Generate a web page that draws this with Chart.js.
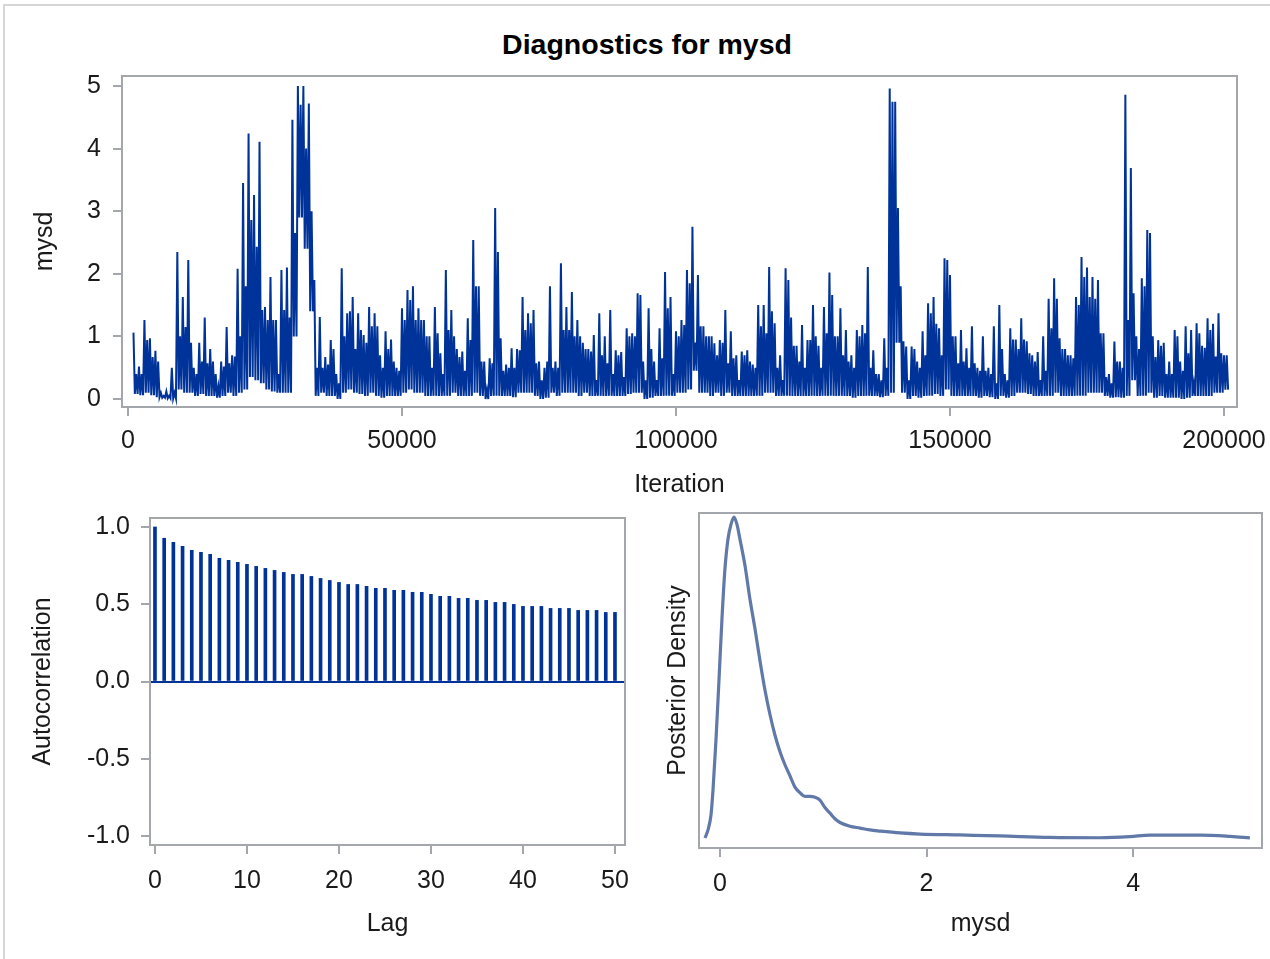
<!DOCTYPE html>
<html>
<head>
<meta charset="utf-8">
<title>Diagnostics for mysd</title>
<script src="https://cdn.jsdelivr.net/npm/chart.js@4.4.1/dist/chart.umd.min.js"></script>
<style>
  html, body { margin: 0; padding: 0; background: #fff; }
  body { width: 1270px; height: 959px; position: relative; overflow: hidden; font-family: 'Liberation Sans', Arial, sans-serif; }
  .frame { position: absolute; left: 3px; top: 4px; width: 1300px; height: 1000px; border-left: 2px solid #d6d6d6; border-top: 2px solid #d6d6d6; }
  .title { position: absolute; left: 0; width: 1294px; top: 27px; text-align: center; font-weight: bold; font-size: 28.5px; line-height: 34px; color: #000; }
  .panel { position: absolute; }
</style>
</head>
<body>
<div class="frame"></div>
<div class="title">Diagnostics for mysd</div>
<div class="panel" style="left:0; top:60px; width:1270px; height:440px;"><canvas id="traceChart"></canvas></div>
<div class="panel" style="left:0; top:500px; width:640px; height:459px;"><canvas id="acfChart"></canvas></div>
<div class="panel" style="left:640px; top:500px; width:630px; height:459px;"><canvas id="densityChart"></canvas></div>

<script>
// Trace plot: samples thinned to one slice per 1000 iterations.
// For each slice: highest value, lowest value and the level of the dense band
const traceStep = 1000;
const traceHigh = [
  1.06, 0.52, 1.26, 0.97, 0.77, 0.10, 0.12, 0.50, 2.35, 1.63,
  2.22, 0.50, 0.90, 1.30, 0.80, 0.40, 0.60, 1.15, 0.70, 2.08,
  3.45, 4.24, 3.26, 4.11, 1.47, 1.95, 1.26, 2.06, 2.10, 4.46,
  5.00, 5.00, 4.72, 1.90, 1.31, 0.67, 0.94, 0.40, 2.09, 1.37,
  1.63, 1.37, 1.02, 1.47, 1.37, 0.70, 1.08, 0.95, 0.50, 1.45,
  1.74, 1.80, 1.45, 1.26, 1.00, 1.47, 0.73, 2.06, 1.42, 0.80,
  0.76, 1.29, 2.54, 1.80, 0.60, 0.65, 3.05, 0.97, 0.55, 0.81,
  0.80, 1.63, 1.37, 1.42, 0.60, 0.50, 1.80, 0.60, 2.17, 1.47,
  1.71, 1.26, 0.90, 0.80, 1.02, 1.37, 1.00, 1.42, 0.78, 0.75,
  1.13, 1.05, 1.69, 0.60, 1.45, 0.60, 1.13, 2.03, 1.63, 1.08,
  1.26, 2.06, 2.75, 1.98, 1.16, 1.00, 0.89, 0.94, 1.42, 1.08,
  0.70, 0.76, 0.78, 0.55, 1.50, 1.50, 2.11, 1.21, 0.70, 2.09,
  1.30, 0.85, 1.18, 0.94, 1.50, 0.85, 1.47, 2.02, 1.00, 1.45,
  1.10, 0.70, 1.10, 1.18, 2.11, 0.78, 0.40, 0.97, 4.96, 4.75,
  1.80, 0.84, 0.84, 0.60, 1.08, 1.53, 1.63, 1.13, 2.25, 1.98,
  1.00, 1.10, 0.81, 1.16, 0.50, 1.00, 0.50, 1.16, 1.50, 0.40,
  1.13, 0.95, 1.29, 0.92, 0.70, 0.75, 1.00, 1.60, 1.93, 0.97,
  0.80, 0.70, 1.63, 2.27, 2.10, 1.95, 1.90, 1.05, 0.40, 0.92,
  0.60, 4.86, 3.69, 1.00, 1.93, 2.70, 1.00, 0.94, 0.90, 0.60,
  1.10, 0.60, 1.16, 1.10, 1.21, 0.85, 1.29, 1.20, 1.37, 0.70
];
const traceLow = [
  0.08, 0.06, 0.10, 0.06, 0.03, 0.02, 0.01, 0.01, 0.15, 0.10,
  0.10, 0.05, 0.08, 0.05, 0.05, 0.02, 0.05, 0.10, 0.05, 0.10,
  0.15, 0.35, 0.30, 0.25, 0.15, 0.12, 0.10, 0.10, 0.10, 1.00,
  2.90, 2.40, 1.40, 0.05, 0.10, 0.05, 0.05, 0.00, 0.10, 0.15,
  0.10, 0.08, 0.05, 0.10, 0.05, 0.02, 0.05, 0.05, 0.05, 0.10,
  0.15, 0.10, 0.10, 0.05, 0.05, 0.05, 0.05, 0.05, 0.10, 0.05,
  0.05, 0.05, 0.10, 0.05, 0.00, 0.05, 0.05, 0.05, 0.05, 0.03,
  0.10, 0.10, 0.10, 0.05, 0.00, 0.02, 0.10, 0.05, 0.10, 0.10,
  0.10, 0.05, 0.10, 0.05, 0.05, 0.05, 0.05, 0.05, 0.05, 0.05,
  0.08, 0.10, 0.10, 0.00, 0.02, 0.05, 0.05, 0.05, 0.05, 0.10,
  0.10, 0.15, 0.45, 0.10, 0.10, 0.05, 0.10, 0.05, 0.10, 0.05,
  0.05, 0.05, 0.05, 0.05, 0.05, 0.10, 0.10, 0.05, 0.05, 0.05,
  0.05, 0.05, 0.05, 0.05, 0.05, 0.05, 0.05, 0.05, 0.05, 0.05,
  0.05, 0.02, 0.05, 0.05, 0.05, 0.05, 0.03, 0.05, 0.10, 0.90,
  0.10, 0.00, 0.05, 0.02, 0.05, 0.05, 0.08, 0.05, 0.15, 0.05,
  0.05, 0.05, 0.05, 0.05, 0.02, 0.05, 0.03, 0.00, 0.05, 0.02,
  0.05, 0.10, 0.10, 0.08, 0.05, 0.05, 0.05, 0.05, 0.10, 0.05,
  0.05, 0.05, 0.05, 0.05, 0.10, 0.10, 0.10, 0.05, 0.02, 0.03,
  0.02, 0.05, 0.30, 0.05, 0.05, 0.10, 0.02, 0.05, 0.02, 0.02,
  0.02, 0.00, 0.02, 0.05, 0.05, 0.05, 0.05, 0.10, 0.10, 0.15
];
const traceMid = [
  0.40, 0.40, 0.94, 0.67, 0.60, 0.05, 0.05, 0.10, 1.00, 1.15,
  0.90, 0.40, 0.60, 0.57, 0.60, 0.20, 0.52, 0.57, 0.68, 1.00,
  1.80, 2.86, 2.43, 1.42, 1.26, 1.26, 0.40, 1.42, 1.30, 2.65,
  4.70, 4.00, 3.00, 0.50, 0.50, 0.55, 0.80, 0.25, 1.00, 1.40,
  0.80, 1.10, 0.90, 1.16, 1.16, 0.50, 0.80, 0.60, 0.45, 1.26,
  1.58, 1.26, 1.26, 1.00, 0.50, 1.05, 0.40, 1.10, 1.00, 0.67,
  0.45, 0.94, 1.80, 0.60, 0.15, 0.57, 2.35, 0.45, 0.50, 0.50,
  0.78, 1.10, 1.21, 0.57, 0.30, 0.60, 0.50, 0.50, 1.10, 1.10,
  1.00, 1.00, 0.80, 0.76, 0.30, 0.70, 0.57, 0.40, 0.70, 0.35,
  1.00, 1.00, 1.66, 0.30, 0.80, 0.30, 0.65, 1.45, 0.40, 1.00,
  1.18, 1.85, 0.90, 1.16, 1.00, 1.00, 0.70, 0.90, 0.57, 0.65,
  0.30, 0.70, 0.60, 0.50, 1.16, 1.05, 1.40, 0.50, 0.30, 1.90,
  0.85, 0.60, 0.50, 0.94, 1.00, 0.50, 1.05, 1.66, 1.00, 0.70,
  0.60, 0.50, 1.00, 1.05, 0.50, 0.40, 0.30, 0.50, 4.75, 3.05,
  0.92, 0.30, 0.80, 0.50, 0.70, 1.37, 1.20, 0.70, 2.22, 1.00,
  0.57, 0.60, 0.50, 0.57, 0.45, 0.45, 0.40, 0.25, 0.80, 0.30,
  0.95, 0.80, 0.95, 0.73, 0.60, 0.30, 0.45, 1.13, 1.60, 0.80,
  0.70, 0.65, 1.50, 1.95, 1.63, 1.60, 1.05, 0.35, 0.25, 0.60,
  0.50, 1.26, 1.69, 0.80, 1.80, 2.65, 0.67, 0.85, 0.40, 0.40,
  1.00, 0.45, 0.73, 0.25, 1.05, 0.82, 1.10, 0.68, 0.73, 0.70
];
const traceXTicks = [0, 50000, 100000, 150000, 200000];
const traceYTicks = [0, 1, 2, 3, 4, 5];

// Autocorrelation by lag
const acfLags = [
  0, 1, 2, 3, 4, 5, 6, 7, 8, 9, 10, 11, 12, 13, 14, 15, 16, 17, 18, 19, 20,
  21, 22, 23, 24, 25, 26, 27, 28, 29, 30, 31, 32, 33, 34, 35, 36, 37, 38, 39, 40,
  41, 42, 43, 44, 45, 46, 47, 48, 49, 50
];
const acfValues = [
  1.000, 0.927, 0.900, 0.875, 0.849, 0.836, 0.823, 0.797, 0.784, 0.771, 0.758,
  0.745, 0.732, 0.719, 0.706, 0.693, 0.693, 0.680, 0.667, 0.654, 0.641,
  0.628, 0.628, 0.616, 0.603, 0.603, 0.590, 0.590, 0.577, 0.577, 0.564,
  0.551, 0.551, 0.538, 0.538, 0.525, 0.525, 0.512, 0.512, 0.499, 0.486,
  0.486, 0.486, 0.473, 0.473, 0.473, 0.460, 0.460, 0.460, 0.447, 0.447
];
const acfXTicks = [0, 10, 20, 30, 40, 50];
const acfYTicks = [-1, -0.5, 0, 0.5, 1];

// Posterior density of mysd
const densityX = [
  -0.145, -0.116, -0.087, -0.068, -0.039, -0.010, 0.019, 0.048, 0.077, 0.106,
  0.136, 0.165, 0.194, 0.242, 0.290, 0.339, 0.387, 0.436, 0.484, 0.532,
  0.581, 0.629, 0.678, 0.726, 0.774, 0.823, 0.871, 0.920, 0.968, 1.016,
  1.065, 1.113, 1.162, 1.258, 1.355, 1.452, 1.549, 1.742, 1.936, 2.320,
  2.710, 3.190, 3.680, 3.970, 4.160, 4.650, 4.940, 5.130
];
const densityY = [
  0.027, 0.070, 0.150, 0.280, 0.550, 0.870, 1.200, 1.470, 1.630, 1.710,
  1.750, 1.710, 1.630, 1.490, 1.310, 1.150, 0.980, 0.820, 0.690, 0.580,
  0.490, 0.420, 0.360, 0.300, 0.270, 0.250, 0.250, 0.245, 0.230, 0.190,
  0.160, 0.130, 0.110, 0.090, 0.080, 0.070, 0.064, 0.054, 0.048, 0.043,
  0.038, 0.030, 0.028, 0.034, 0.042, 0.042, 0.035, 0.027
];
const densityXTicks = [0, 2, 4];

// Look
const frameColor = '#a3a6aa';
const traceColor = '#003399';
const densityColor = '#6079a8';

Chart.defaults.font.family = "'Liberation Sans', Arial, sans-serif";
Chart.defaults.font.size = 25;
Chart.defaults.color = '#1a1a1a';
Chart.defaults.animation = false;
Chart.defaults.plugins.legend.display = false;
Chart.defaults.plugins.tooltip.enabled = false;

// box around each plot area
const framePlugin = {
  id: 'frame',
  afterDatasetsDraw(chart) {
    const { ctx, chartArea: a } = chart;
    ctx.save();
    ctx.strokeStyle = frameColor;
    ctx.lineWidth = 2;
    ctx.strokeRect(a.left, a.top, a.right - a.left, a.bottom - a.top);
    ctx.restore();
  }
};

function axis(o) {
  return {
    type: 'linear',
    min: o.min,
    max: o.max,
    offset: false,
    afterBuildTicks: s => { s.ticks = (o.ticks || []).map(v => ({ value: v })); },
    afterFit: s => {
      if (s.isHorizontal()) s.height = o.size; else s.width = o.size;
      // plot areas are placed by layout padding only
      s.paddingTop = s.paddingBottom = s.paddingLeft = s.paddingRight = 0;
    },
    border: { display: false },
    grid: {
      display: o.ticks !== undefined,
      drawOnChartArea: false,
      offset: false,
      color: frameColor,
      lineWidth: 2,
      tickLength: 9
    },
    ticks: {
      display: o.ticks !== undefined,
      autoSkip: false,
      maxRotation: 0,
      padding: o.tickPad,
      callback: o.fmt || (v => String(v))
    },
    title: { display: true, text: o.title, padding: o.titlePad }
  };
}

// Trace: each slice swings peak -> trough -> band level -> trough
const tracePoints = [];
traceHigh.forEach((h, i) => {
  const it = (i + 1) * traceStep;
  tracePoints.push(
    { x: it, y: h },
    { x: it + traceStep / 4, y: traceLow[i] },
    { x: it + traceStep / 2, y: traceMid[i] },
    { x: it + 3 * traceStep / 4, y: traceLow[i] }
  );
});

new Chart(document.getElementById('traceChart'), {
  type: 'line',
  data: { datasets: [{
    data: tracePoints,
    borderColor: traceColor,
    borderWidth: 2,
    pointRadius: 0,
    tension: 0
  }] },
  options: {
    responsive: true,
    maintainAspectRatio: false,
    layout: { padding: { top: 16, right: 33, left: 0, bottom: 0 } },
    scales: {
      x: axis({ min: -1095, max: 202372, ticks: traceXTicks, size: 93, tickPad: 10, title: 'Iteration', titlePad: { top: 0, bottom: 0 } }),
      y: axis({ min: -0.128, max: 5.16, ticks: traceYTicks, size: 122, tickPad: 12, title: 'mysd', titlePad: { top: 30, bottom: 0 } })
    }
  },
  plugins: [framePlugin]
});

// Autocorrelation
const acfY = axis({ min: -1.058, max: 1.058, ticks: acfYTicks, size: 150, tickPad: 11, title: 'Autocorrelation', titlePad: { top: 28, bottom: 0 }, fmt: v => v.toFixed(1) });
acfY.grid.drawOnChartArea = true;
acfY.grid.color = c => (c.tick && c.tick.value === 0 ? traceColor : 'rgba(0,0,0,0)');
acfY.grid.tickColor = frameColor;

new Chart(document.getElementById('acfChart'), {
  type: 'bar',
  data: { datasets: [{
    data: acfLags.map((lag, i) => ({ x: lag, y: acfValues[i] })),
    backgroundColor: traceColor,
    barThickness: 3,
    borderWidth: 0
  }] },
  options: {
    responsive: true,
    maintainAspectRatio: false,
    layout: { padding: { top: 18, right: 15, left: 0, bottom: 0 } },
    scales: {
      x: axis({ min: -0.54, max: 51.09, ticks: acfXTicks, size: 114, tickPad: 12, title: 'Lag', titlePad: { top: 0, bottom: 20 } }),
      y: acfY
    }
  },
  plugins: [framePlugin]
});

// Density
new Chart(document.getElementById('densityChart'), {
  type: 'line',
  data: { datasets: [{
    data: densityX.map((x, i) => ({ x, y: densityY[i] })),
    borderColor: densityColor,
    borderWidth: 3.2,
    pointRadius: 0,
    cubicInterpolationMode: 'monotone'
  }] },
  options: {
    responsive: true,
    maintainAspectRatio: false,
    layout: { padding: { top: 13, right: 8, left: 0, bottom: 0 } },
    scales: {
      x: axis({ min: -0.203, max: 5.247, ticks: densityXTicks, size: 111, tickPad: 12, title: 'mysd', titlePad: { top: 0, bottom: 20 } }),
      y: axis({ min: -0.027, max: 1.772, size: 59, title: 'Posterior Density', titlePad: { top: 23, bottom: 0 } })
    }
  },
  plugins: [framePlugin]
});
</script>
</body>
</html>
